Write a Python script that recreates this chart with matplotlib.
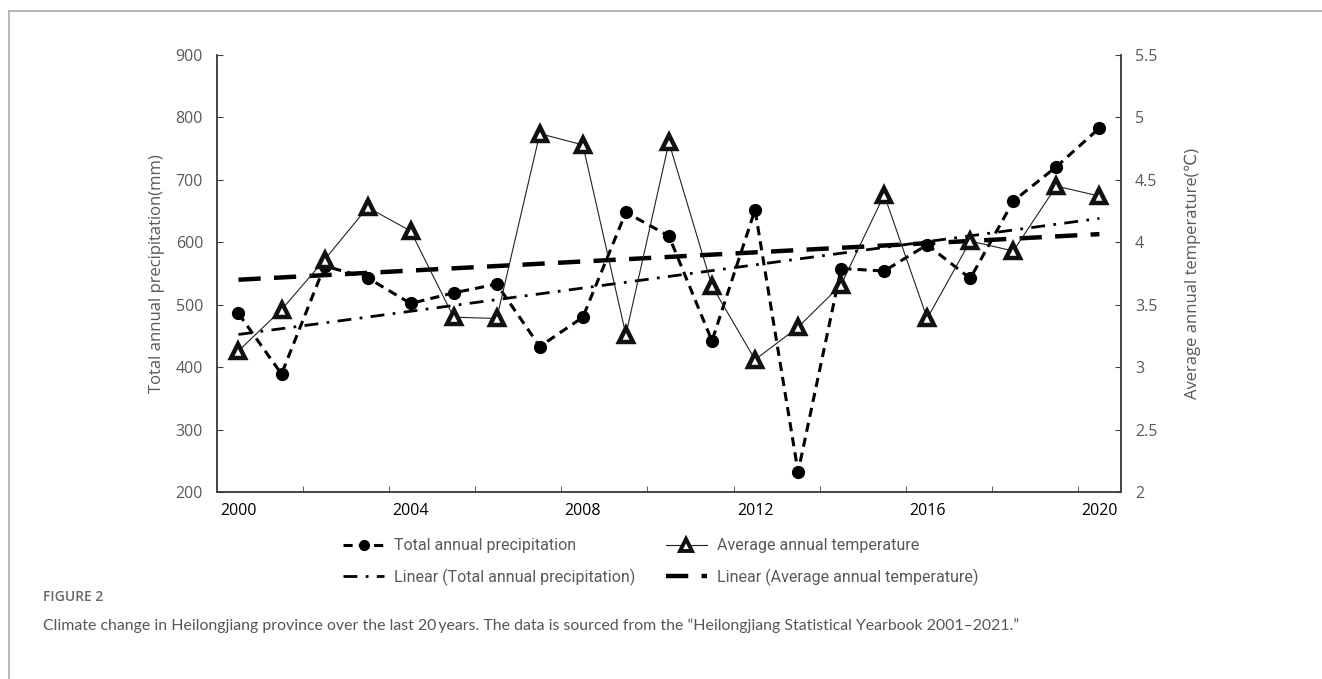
import numpy as np
import matplotlib
matplotlib.use("Agg")
import matplotlib.pyplot as plt
from matplotlib.lines import Line2D

# Heilongjiang climate data, 2000-2020
years = np.arange(2000, 2021)
precip_mm = [486, 389, 562, 543, 502, 519, 533, 433, 480, 648, 610,
             442, 652, 232, 558, 554, 596, 542, 666, 721, 783]
temp_c = [3.13, 3.46, 3.86, 4.28, 4.09, 3.40, 3.39, 4.87, 4.78, 3.26, 4.80,
          3.65, 3.06, 3.32, 3.66, 4.38, 3.39, 4.01, 3.93, 4.45, 4.37]
xtick_years = [2000, 2004, 2008, 2012, 2016, 2020]

GRAY = "#595959"
plt.rcParams["font.family"] = ["Open Sans", "DejaVu Sans"]

fig = plt.figure(figsize=(13.22, 6.79), dpi=100)
ax = fig.add_axes([0.1641, 0.2754, 0.6838, 0.6436])
ax2 = ax.twinx()

# Excel-style linear trendlines (least squares)
p_fit = np.polyfit(years, precip_mm, 1)
t_fit = np.polyfit(years, temp_c, 1)

ax.plot(years, np.polyval(p_fit, years), color="black", lw=2.0,
        linestyle=(0, (5, 3, 1, 3)), zorder=2)
ax2.plot(years, np.polyval(t_fit, years), color="black", lw=3.2,
         linestyle=(0, (5, 3)), zorder=2)
ax.plot(years, precip_mm, color="black", lw=2.2, linestyle=(0, (3, 2)),
        marker="o", ms=8.5, mfc="black", mec="black", zorder=4)
ax2.plot(years, temp_c, color="#222222", lw=0.8, marker="^", ms=9.5,
         mfc="white", mec="#111111", mew=3.2, zorder=3)

ax.set_xlim(1999.5, 2020.5)
ax.set_ylim(200, 900)
ax2.set_ylim(2, 5.5)
ax.set_yticks(range(200, 901, 100))
ax2.set_yticks(np.arange(2, 5.51, 0.5))
ax2.set_yticklabels(["2", "2.5", "3", "3.5", "4", "4.5", "5", "5.5"])
ax.set_xticks(xtick_years)
ax.set_xticks(np.arange(2001.5, 2020, 2), minor=True)
ax.tick_params(axis="x", which="major", length=0, labelsize=11.5,
               labelcolor="black", pad=8)
ax.tick_params(axis="x", which="minor", direction="in", length=4,
               color="#404040")
ax.tick_params(axis="y", direction="in", length=4, color="#404040",
               labelsize=11.5, labelcolor=GRAY, pad=10)
ax2.tick_params(axis="y", direction="in", length=4, color="#404040",
                labelsize=11.5, labelcolor=GRAY, pad=10)

for a in (ax, ax2):
    a.spines["top"].set_visible(False)
    for s in ("left", "right", "bottom"):
        a.spines[s].set_color("#404040")
        a.spines[s].set_linewidth(1.1)

ax.set_ylabel("Total annual precipitation(mm)", fontsize=12, color=GRAY,
              labelpad=8)
ax2.set_ylabel("Average annual temperature(\u2103)", fontsize=12,
               color=GRAY, labelpad=20)

handles = [
    Line2D([], [], color="black", lw=2.2, linestyle=(0, (3, 2)),
           marker="o", ms=7, mfc="black"),
    Line2D([], [], color="black", lw=2.0, linestyle=(0, (5, 3, 1, 3))),
    Line2D([], [], color="#222222", lw=0.8, marker="^", ms=8,
           mfc="white", mec="#111111", mew=2.8),
    Line2D([], [], color="black", lw=3.2, linestyle=(0, (5, 3))),
]
labels = ["Total annual precipitation", "Linear (Total annual precipitation)",
          "Average annual temperature", "Linear (Average annual temperature)"]
fig.legend(handles, labels, loc="center", bbox_to_anchor=(0.4997, 0.172),
           ncol=2, frameon=False, handlelength=2.6, handletextpad=0.6,
           columnspacing=1.9, labelspacing=0.95, labelcolor=GRAY,
           prop={"family": ["Roboto", "DejaVu Sans"], "size": 11.5})

# figure frame
fig.add_artist(Line2D([0.0068, 0.0068], [0, 0.984], color="#aaaaaa",
                      lw=1.2, transform=fig.transFigure))
fig.add_artist(Line2D([0.0068, 1.0], [0.984, 0.984], color="#aaaaaa",
                      lw=1.2, transform=fig.transFigure))

fig.text(0.0325, 0.121, "FIGURE 2", fontsize=10, color="#666666",
         fontweight="semibold", va="center")
fig.text(0.0325, 0.078,
         "Climate change in Heilongjiang province over the last 20\u2009years. "
         "The data is sourced from the \u201cHeilongjiang Statistical Yearbook "
         "2001\u20132021.\u201d",
         fontsize=11.4, color="#555555", va="center",
         family=["Lato", "DejaVu Sans"])

fig.savefig("out.png", dpi=100)
